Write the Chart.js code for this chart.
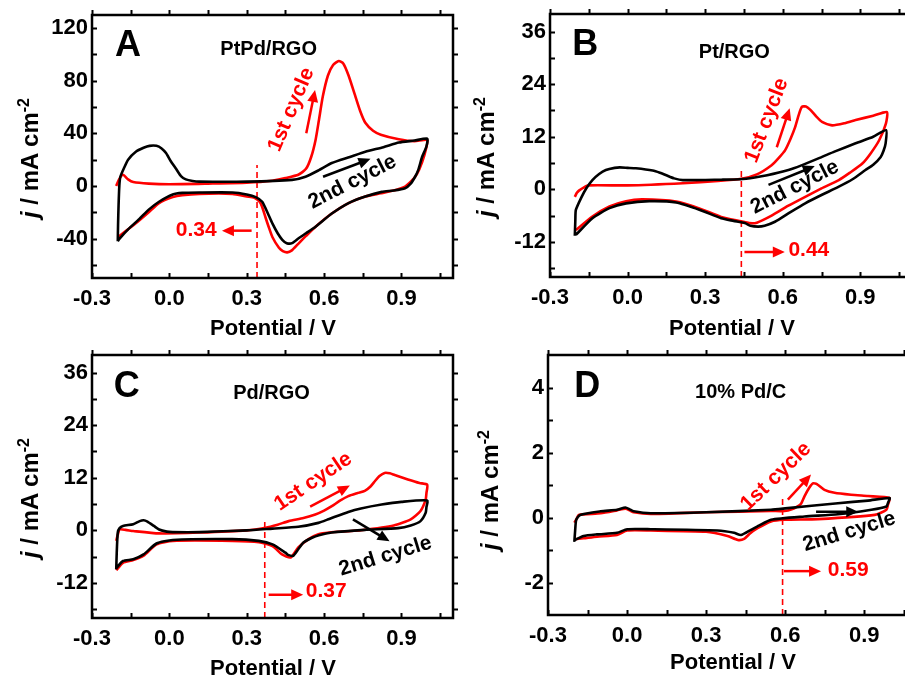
<!DOCTYPE html>
<html>
<head>
<meta charset="utf-8">
<script src="https://cdn.jsdelivr.net/npm/chart.js@4.4.1/dist/chart.umd.min.js"></script>
<style>
  body { margin: 0; background: #fff; width: 905px; height: 679px; overflow: hidden; position: relative;
         font-family: "Liberation Sans", Arial, sans-serif; }
  canvas { position: absolute; display: block; }
  .xt, .yt { position: absolute; font-weight: bold; font-size: 22px; white-space: nowrap; color: #000;
             transform: translate(-50%, -50%); line-height: 1; }
  .yt { font-size: 24px; transform: translate(-50%, -50%) rotate(-90deg); }
  .yt sup { font-size: 16px; }
</style>
</head>
<body>
<canvas id="cA"></canvas>
<canvas id="cB"></canvas>
<canvas id="cC"></canvas>
<canvas id="cD"></canvas>

<div class="yt" style="left:29px;top:158px"><i>j</i> / mA cm<sup>-2</sup></div>
<div class="yt" style="left:485px;top:157px"><i>j</i> / mA cm<sup>-2</sup></div>
<div class="yt" style="left:29px;top:498px"><i>j</i> / mA cm<sup>-2</sup></div>
<div class="yt" style="left:489px;top:490px"><i>j</i> / mA cm<sup>-2</sup></div>
<div class="xt" style="left:273px;top:328px">Potential / V</div>
<div class="xt" style="left:732px;top:328px">Potential / V</div>
<div class="xt" style="left:273px;top:668px">Potential / V</div>
<div class="xt" style="left:733px;top:662px">Potential / V</div>

<script>
/* CV curves, [potential V, current density mA cm-2], forward scan then reverse */

const X_TICKS = [-0.3, -0.15, 0, 0.15, 0.3, 0.45, 0.6, 0.75, 0.9, 1.05];
const X_LABELS = ['-0.3', '', '0.0', '', '0.3', '', '0.6', '', '0.9', ''];

const A_Y_TICKS = [-60, -40, -20, 0, 20, 40, 60, 80, 100, 120];
const A_Y_LABELS = ['', '-40', '', '0', '', '40', '', '80', '', '120'];
const BC_Y_TICKS = [-18, -12, -6, 0, 6, 12, 18, 24, 30, 36];
const BC_Y_LABELS = ['', '-12', '', '0', '', '12', '', '24', '', '36'];
const D_Y_TICKS = [-2, -1, 0, 1, 2, 3, 4];
const D_Y_LABELS = ['-2', '', '0', '', '2', '', '4'];

const ONSET_A = 0.34, ONSET_B = 0.44, ONSET_C = 0.37, ONSET_D = 0.59;

// A: PtPd/RGO
const A_RED = [
  [-0.206,0],[-0.195,5],[-0.18,8.5],[-0.16,5],[-0.14,3],[-0.08,1.8],[0.0,1.3],[0.15,1.8],[0.3,2.5],
  [0.4,4],[0.45,6],[0.5,8.5],[0.53,13],[0.55,22],[0.567,35],[0.58,50],[0.595,68],[0.615,84],[0.635,92],
  [0.657,95],[0.675,93],[0.695,84],[0.72,69],[0.74,57],[0.76,48],[0.79,42],[0.82,39],[0.89,35.5],[0.95,34],[1.0,35],
  [0.995,28],[0.98,18],[0.96,9],[0.94,4],[0.91,-1],[0.87,-3.5],[0.82,-5.6],[0.76,-8],[0.695,-13],[0.63,-21],
  [0.567,-31],[0.53,-38],[0.5,-44],[0.475,-49],[0.457,-50.5],[0.44,-49.5],[0.425,-47],[0.40,-39],[0.385,-31],
  [0.373,-24],[0.36,-16],[0.35,-12],[0.33,-9],[0.3,-8],[0.245,-6],[0.116,-6],[0.05,-7],[0.013,-8.5],
  [-0.04,-13],[-0.08,-20],[-0.116,-26],[-0.16,-33],[-0.2,-39]
];
const A_BLACK = [
  [-0.2,-42],[-0.199,-30],[-0.197,-15],[-0.194,0],[-0.19,7],[-0.175,14],[-0.16,20],[-0.13,26],[-0.1,29],
  [-0.077,30.5],[-0.05,30.5],[-0.03,28.5],[-0.013,25],[0.005,19],[0.026,13],[0.045,7.5],[0.064,5],[0.09,3.8],
  [0.116,3.3],[0.3,3.3],[0.476,4.6],[0.528,7],[0.58,12],[0.63,17.4],[0.7,22],[0.76,26],[0.83,29.5],[0.89,33],
  [0.95,34.5],[1.0,36],
  [0.997,30],[0.98,22],[0.965,12],[0.953,7],[0.935,1.5],[0.914,-1.8],[0.87,-3.5],[0.824,-4.5],[0.76,-8],
  [0.695,-13],[0.63,-21],[0.567,-31],[0.53,-36],[0.5,-40],[0.476,-43.5],[0.455,-43.5],[0.438,-41],[0.42,-36],
  [0.40,-28.7],[0.38,-20],[0.36,-12],[0.335,-8.5],[0.3,-6.5],[0.245,-5],[0.116,-5],[0.05,-5.3],[0.013,-6.5],
  [-0.04,-12],[-0.08,-18],[-0.116,-25],[-0.16,-33],[-0.193,-40],[-0.2,-42]
];

// B: Pt/RGO
const B_RED = [
  [-0.204,-1.7],[-0.196,-0.8],[-0.188,-0.3],[-0.17,0.4],[-0.15,0.9],[0.0,0.9],[0.214,1.4],[0.35,1.9],[0.44,2.4],
  [0.5,3.4],[0.557,5.5],[0.585,7.2],[0.609,8.9],[0.63,11.5],[0.648,14.2],[0.662,17],[0.674,18.8],[0.69,18.9],
  [0.706,18.2],[0.73,16.6],[0.752,15.4],[0.791,14.6],[0.84,15.1],[0.882,15.8],[0.95,16.8],[1.003,17.6],
  [0.999,15],[0.973,11.2],[0.94,8.2],[0.908,5.9],[0.86,3.8],[0.817,2.1],[0.75,0.2],[0.687,-1.7],[0.62,-3.8],
  [0.557,-6],[0.5,-7.6],[0.47,-7.7],[0.44,-7.3],[0.362,-6.3],[0.28,-4.4],[0.188,-2.8],[0.058,-2.3],[-0.006,-2.7],
  [-0.07,-3.9],[-0.136,-6.2],[-0.2,-9.3]
];
const B_BLACK = [
  [-0.204,-10.6],[-0.202,-7],[-0.2,-4.7],[-0.18,-2],[-0.16,0.2],[-0.136,2.1],[-0.11,3.5],[-0.084,4.4],[-0.05,4.9],
  [-0.03,5],[0.0,4.9],[0.032,4.8],[0.097,4.3],[0.125,3.8],[0.15,3.2],[0.18,2.5],[0.214,2.1],[0.362,2.2],
  [0.435,2.3],[0.492,2.7],[0.54,3.2],[0.622,4.4],[0.67,5.4],[0.752,7.4],[0.8,8.6],[0.882,10.5],[0.95,12],[1.0,13.5],
  [0.998,10.5],[0.99,8.8],[0.979,7.4],[0.95,5.6],[0.92,4.4],[0.87,2.3],[0.817,0.6],[0.75,-1.3],[0.687,-3.2],
  [0.63,-5.2],[0.57,-7.4],[0.53,-8.3],[0.505,-8.5],[0.475,-8.3],[0.453,-7.7],[0.41,-7.2],[0.362,-6.6],
  [0.28,-4.7],[0.188,-3],[0.084,-2.7],[-0.006,-3.2],[-0.07,-4.3],[-0.136,-6.6],[-0.2,-10.4]
];

// C: Pd/RGO
const C_RED = [
  [-0.206,-2.4],[-0.2,-1],[-0.193,0.2],[-0.17,0.1],[-0.14,-0.15],[-0.04,-0.7],[0.116,-0.5],[0.3,0],[0.373,0.6],
  [0.42,1.3],[0.463,2.1],[0.52,2.8],[0.566,3.6],[0.6,4.5],[0.63,5.5],[0.66,6.7],[0.694,7.8],[0.73,8.5],[0.758,9],
  [0.78,10],[0.797,11.2],[0.815,12.4],[0.835,13.1],[0.855,13],[0.874,12.6],[0.925,11.6],[0.97,10.8],[1.0,10.4],
  [0.997,8.5],[0.994,7],[0.974,4.4],[0.936,2.5],[0.87,1.1],[0.743,0],[0.694,-0.2],[0.62,-0.5],[0.578,-0.9],
  [0.54,-2],[0.5,-3.9],[0.47,-6.2],[0.437,-5.5],[0.4,-3.6],[0.347,-2.7],[0.244,-2.4],[0.013,-2.4],[-0.05,-3.2],
  [-0.1,-5.8],[-0.14,-6.8],[-0.18,-7.4],[-0.206,-9.1]
];
const C_BLACK = [
  [-0.206,-8.9],[-0.204,-5],[-0.2,-0.5],[-0.193,0.5],[-0.18,1],[-0.14,1.4],[-0.115,2.1],[-0.1,2.3],[-0.085,2],
  [-0.06,1],[-0.04,0.2],[-0.01,-0.3],[0.013,-0.4],[0.116,-0.4],[0.3,0],[0.4,0.4],[0.5,0.8],[0.578,1.7],[0.62,2.6],
  [0.694,4.2],[0.743,5],[0.823,5.9],[0.9,6.5],[1.0,6.8],
  [0.997,5.3],[0.994,4],[0.974,2.1],[0.936,1.1],[0.887,0.5],[0.758,0.1],[0.63,-0.5],[0.58,-1.1],[0.553,-1.7],
  [0.52,-2.8],[0.5,-4.3],[0.48,-5.8],[0.46,-5.6],[0.45,-5.1],[0.4,-3.2],[0.347,-2.4],[0.244,-2],[0.013,-2.2],
  [-0.05,-3],[-0.1,-5.5],[-0.14,-6.6],[-0.18,-7],[-0.206,-8.7]
];

// D: 10% Pd/C
const D_RED = [
  [-0.2,-0.16],[-0.19,-0.02],[-0.184,0.08],[-0.1,0.13],[-0.038,0.22],[-0.006,0.27],[0.01,0.22],[0.025,0.16],
  [0.09,0.11],[0.3,0.16],[0.546,0.2],[0.597,0.2],[0.625,0.25],[0.647,0.34],[0.66,0.42],[0.673,0.65],[0.69,0.9],
  [0.705,1.05],[0.72,1.03],[0.749,0.85],[0.787,0.76],[0.85,0.7],[0.914,0.66],[0.996,0.6],
  [0.99,0.4],[0.984,0.24],[0.94,0.08],[0.724,-0.05],[0.597,-0.07],[0.546,-0.12],[0.495,-0.33],[0.465,-0.5],
  [0.444,-0.66],[0.42,-0.69],[0.381,-0.57],[0.3,-0.44],[0.09,-0.4],[0.0,-0.4],[-0.038,-0.54],[-0.114,-0.59],
  [-0.165,-0.64],[-0.2,-0.67]
];
const D_BLACK = [
  [-0.2,-0.75],[-0.197,-0.4],[-0.193,-0.07],[-0.178,0.08],[-0.1,0.19],[-0.038,0.24],[-0.006,0.31],[0.01,0.25],
  [0.025,0.19],[0.09,0.13],[0.3,0.16],[0.546,0.24],[0.6,0.28],[0.8,0.44],[0.914,0.52],[0.996,0.6],
  [0.99,0.45],[0.984,0.34],[0.927,0.24],[0.8,0.1],[0.673,0.03],[0.546,-0.07],[0.5,-0.25],[0.47,-0.38],
  [0.432,-0.54],[0.406,-0.47],[0.343,-0.4],[0.09,-0.36],[0.0,-0.36],[-0.038,-0.47],[-0.114,-0.52],
  [-0.165,-0.57],[-0.2,-0.7]
];

const RED = '#ff0000';
const TICK_FONT = { family: '"Liberation Sans", Arial, sans-serif', size: 22, weight: 'bold' };
const F_BIG = 'bold 36px "Liberation Sans", Arial, sans-serif';
const F_TXT = 'bold 20px "Liberation Sans", Arial, sans-serif';
const F_CYC = 'bold 21px "Liberation Sans", Arial, sans-serif';
const F_NUM = 'bold 21px "Liberation Sans", Arial, sans-serif';

/* annotations in data units */
const NOTES_A = [
  { s: 'A', x: -0.16, y: 106, font: F_BIG },
  { s: 'PtPd/RGO', x: 0.385, y: 104, font: F_TXT },
  { s: '1st cycle', x: 0.473, y: 58, rot: -67, color: RED },
  { arrow: [0.531, 40, 0.565, 73], color: RED },
  { arrow: [0.596, 7, 0.78, 20.6] },
  { s: '2nd cycle', x: 0.71, y: 3, rot: -27 },
  { s: '0.34', x: 0.104, y: -33.5, font: F_NUM, color: RED },
  { arrow: [0.319, -34, 0.204, -34], color: RED }
];
const NOTES_B = [
  { s: 'B', x: -0.164, y: 32.8, font: F_BIG },
  { s: 'Pt/RGO', x: 0.413, y: 31.2, font: F_TXT },
  { s: '1st cycle', x: 0.538, y: 15.7, rot: -69, color: RED },
  { arrow: [0.577, 9.6, 0.627, 18.5], color: RED },
  { arrow: [0.545, 1, 0.724, 5.3] },
  { s: '2nd cycle', x: 0.647, y: 0.5, rot: -27 },
  { s: '0.44', x: 0.701, y: -13.8, font: F_NUM, color: RED },
  { arrow: [0.452, -14.3, 0.608, -14.3], color: RED }
];
const NOTES_C = [
  { s: 'C', x: -0.165, y: 32.6, font: F_BIG },
  { s: 'Pd/RGO', x: 0.396, y: 31.2, font: F_TXT },
  { s: '1st cycle', x: 0.558, y: 11.1, rot: -34, color: RED },
  { arrow: [0.546, 5.4, 0.7, 10.2], color: RED },
  { arrow: [0.712, 2.5, 0.854, -2.5] },
  { s: '2nd cycle', x: 0.838, y: -5.9, rot: -17 },
  { s: '0.37', x: 0.608, y: -14, font: F_NUM, color: RED },
  { arrow: [0.385, -14.7, 0.519, -14.7], color: RED }
];
const NOTES_D = [
  { s: 'D', x: -0.151, y: 4.0, font: F_BIG },
  { s: '10% Pd/C', x: 0.431, y: 3.86, font: F_TXT },
  { s: '1st cycle', x: 0.565, y: 1.26, rot: -44, color: RED },
  { arrow: [0.61, 0.55, 0.698, 1.32], color: RED },
  { arrow: [0.717, 0.18, 0.877, 0.18] },
  { s: '2nd cycle', x: 0.843, y: -0.44, rot: -17 },
  { s: '0.59', x: 0.839, y: -1.62, font: F_NUM, color: RED },
  { arrow: [0.595, -1.65, 0.736, -1.65], color: RED }
];

/* plot-area boxes on the page */
const BOX_A = { l: 92, t: 15, r: 453, b: 278 };
const BOX_B = { l: 550, t: 14, r: 912, b: 277 };
const BOX_C = { l: 92, t: 355, r: 453, b: 618 };
const BOX_D = { l: 548, t: 355, r: 917, b: 615 };
const AX_L = 64, AX_B = 42, PAD_T = 10, PAD_R = 12;

function pts(arr) { return arr.map(([x, y]) => ({ x, y })); }

function drawArrow(ctx, x1, y1, x2, y2, color) {
  const ang = Math.atan2(y2 - y1, x2 - x1), L = 12, w = 5.5;
  ctx.strokeStyle = color; ctx.fillStyle = color; ctx.lineWidth = 2.5;
  ctx.beginPath();
  ctx.moveTo(x1, y1);
  ctx.lineTo(x2 - Math.cos(ang) * L * 0.8, y2 - Math.sin(ang) * L * 0.8);
  ctx.stroke();
  ctx.beginPath();
  ctx.moveTo(x2, y2);
  ctx.lineTo(x2 - Math.cos(ang) * L - Math.sin(ang) * w, y2 - Math.sin(ang) * L + Math.cos(ang) * w);
  ctx.lineTo(x2 - Math.cos(ang) * L + Math.sin(ang) * w, y2 - Math.sin(ang) * L - Math.cos(ang) * w);
  ctx.closePath();
  ctx.fill();
}

function framePlugin(notes) {
  return {
    id: 'frameNotes',
    afterDatasetsDraw(chart) {
      const { ctx, chartArea: a, scales: { x, y } } = chart;
      ctx.save();
      // frame + ticks (in on bottom/left, out on top/right)
      ctx.strokeStyle = '#000';
      ctx.lineWidth = 2;
      ctx.beginPath();
      x.ticks.forEach(t => {
        const px = Math.round(x.getPixelForValue(t.value)) + 0.5;
        ctx.moveTo(px, a.bottom); ctx.lineTo(px, a.bottom - 5);
        ctx.moveTo(px, a.top); ctx.lineTo(px, a.top - 5);
      });
      y.ticks.forEach(t => {
        const py = Math.round(y.getPixelForValue(t.value)) + 0.5;
        ctx.moveTo(a.left, py); ctx.lineTo(a.left + 5, py);
        ctx.moveTo(a.right, py); ctx.lineTo(a.right + 5, py);
      });
      ctx.stroke();
      ctx.lineWidth = 2.5;
      ctx.strokeRect(a.left, a.top, a.right - a.left, a.bottom - a.top);

      notes.forEach(n => {
        const color = n.color || '#000';
        if (n.arrow) {
          const [x1, y1, x2, y2] = n.arrow;
          drawArrow(ctx, x.getPixelForValue(x1), y.getPixelForValue(y1),
                    x.getPixelForValue(x2), y.getPixelForValue(y2), color);
          return;
        }
        ctx.save();
        ctx.translate(x.getPixelForValue(n.x), y.getPixelForValue(n.y));
        ctx.rotate((n.rot || 0) * Math.PI / 180);
        ctx.font = n.font || F_CYC;
        ctx.fillStyle = color;
        ctx.textAlign = 'center';
        ctx.textBaseline = 'middle';
        ctx.fillText(n.s, 0, 0);
        ctx.restore();
      });
      ctx.restore();
    }
  };
}

function panel(id, box, yMin, yMax, yTicks, yLabels, red, black, onset, onsetTop, notes) {
  const cv = document.getElementById(id);
  cv.width = box.r - box.l + AX_L + PAD_R;
  cv.height = box.b - box.t + PAD_T + AX_B;
  cv.style.left = (box.l - AX_L) + 'px';
  cv.style.top = (box.t - PAD_T) + 'px';

  const line = (data, color, extra) => Object.assign({
    data: pts(data), showLine: true, borderColor: color, backgroundColor: color,
    borderWidth: 2.6, pointRadius: 0, tension: 0.2, fill: false
  }, extra || {});

  new Chart(cv, {
    type: 'scatter',
    data: {
      datasets: [
        line(black, '#000'),
        line(red, RED),
        line([[onset, yMin], [onset, onsetTop]], RED, { borderWidth: 1.6, borderDash: [6, 4], tension: 0 })
      ]
    },
    options: {
      responsive: false,
      animation: false,
      devicePixelRatio: 1,
      layout: { padding: { top: PAD_T, right: PAD_R, left: 0, bottom: 0 } },
      plugins: { legend: { display: false }, tooltip: { enabled: false } },
      scales: {
        x: {
          type: 'linear', min: -0.3, max: 1.1,
          grid: { display: false, drawTicks: false }, border: { display: false },
          afterBuildTicks: s => { s.ticks = X_TICKS.map(v => ({ value: v })); },
          afterFit: s => { s.height = AX_B; s.paddingLeft = 0; s.paddingRight = 0; },
          ticks: { autoSkip: false, maxRotation: 0, padding: 8, color: '#000', font: TICK_FONT,
                   callback: (v, i) => X_LABELS[i] }
        },
        y: {
          type: 'linear', min: yMin, max: yMax,
          grid: { display: false, drawTicks: false }, border: { display: false },
          afterBuildTicks: s => { s.ticks = yTicks.map(v => ({ value: v })); },
          afterFit: s => { s.width = AX_L; s.paddingTop = 0; s.paddingBottom = 0; },
          ticks: { autoSkip: false, padding: 4, color: '#000', font: TICK_FONT,
                   callback: (v, i) => yLabels[i] }
        }
      }
    },
    plugins: [framePlugin(notes)]
  });
}

panel('cA', BOX_A, -70, 130, A_Y_TICKS, A_Y_LABELS, A_RED, A_BLACK, ONSET_A, 16, NOTES_A);
panel('cB', BOX_B, -20, 40, BC_Y_TICKS, BC_Y_LABELS, B_RED, B_BLACK, ONSET_B, 4.4, NOTES_B);
panel('cC', BOX_C, -20, 40, BC_Y_TICKS, BC_Y_LABELS, C_RED, C_BLACK, ONSET_C, 2, NOTES_C);
panel('cD', BOX_D, -3, 5, D_Y_TICKS, D_Y_LABELS, D_RED, D_BLACK, ONSET_D, 0.64, NOTES_D);
</script>
</body>
</html>
